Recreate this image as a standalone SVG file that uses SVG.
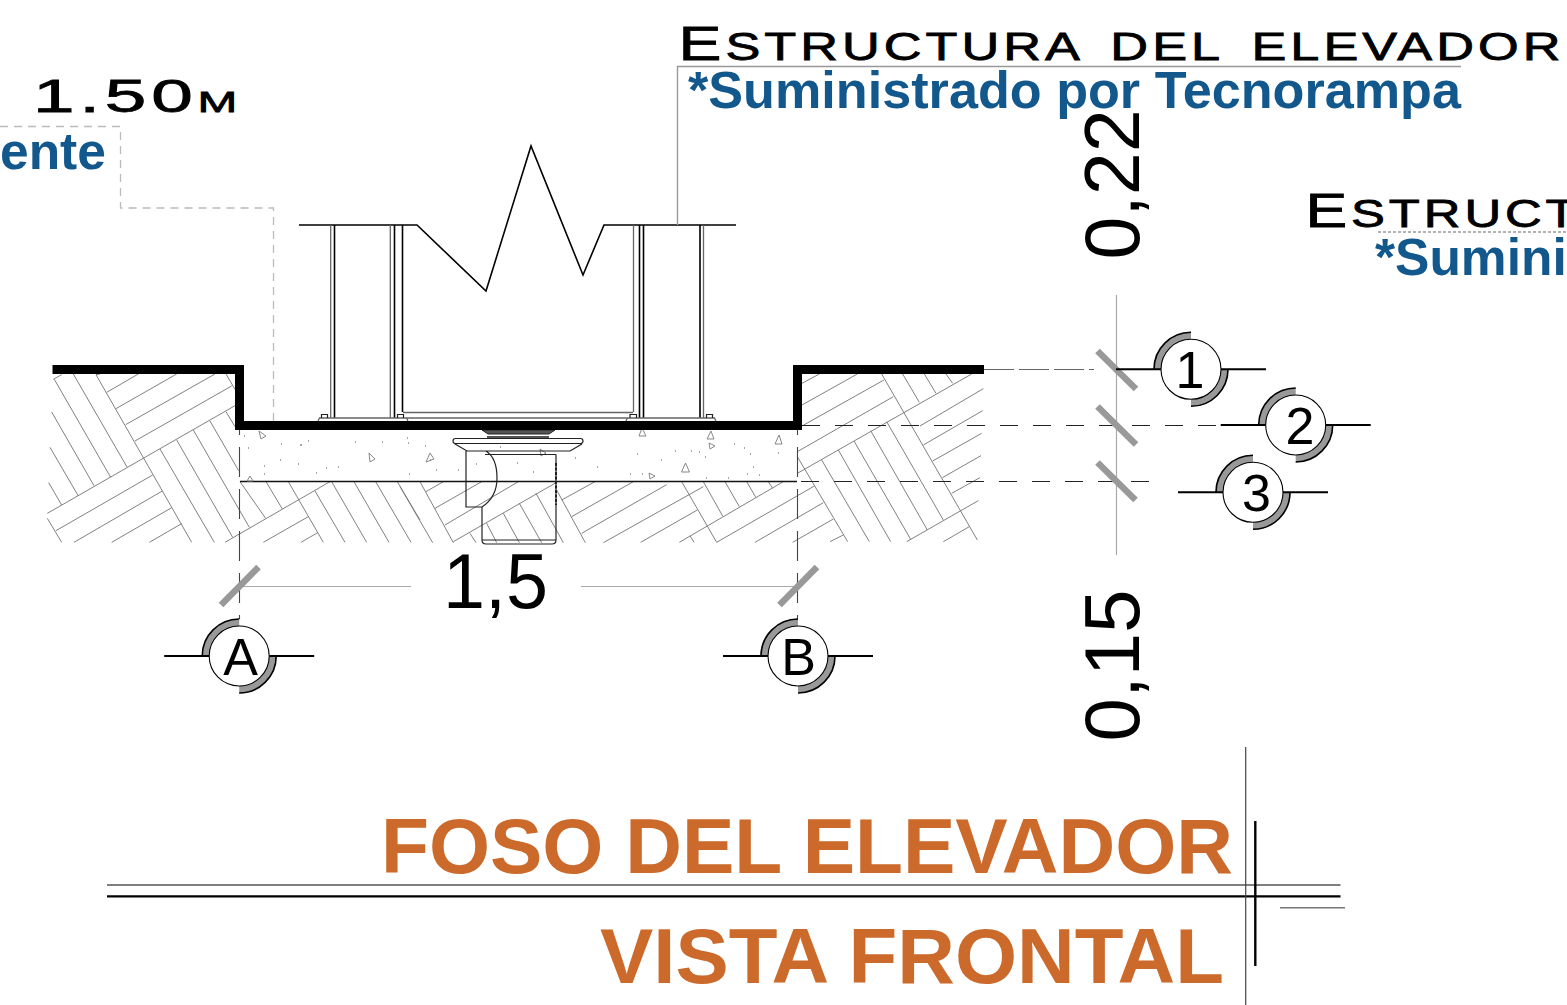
<svg xmlns="http://www.w3.org/2000/svg" xmlns:xlink="http://www.w3.org/1999/xlink" width="1567" height="1005" viewBox="0 0 1567 1005">
<style>
text{font-family:"Liberation Sans",Arial,sans-serif}
.wide{fill:#000;stroke:#000;stroke-width:.8;font-size:39px;letter-spacing:3px;word-spacing:8px}
.big{font-size:48px}
.blue{fill:#12588c;font-weight:700;font-size:51.500px}
.orange{fill:#cc6a2b;font-weight:700;font-size:78px}
.dim{fill:#000;font-size:78px}
.bub{fill:#000;font-size:52px;text-anchor:middle}
.hatch{fill:none;stroke:#777;stroke-width:2.8}
.tick{stroke:#999;stroke-width:6.5;fill:none}
.dim-line{stroke:#aaa;stroke-width:1.2;fill:none}
.dash{stroke:#222;stroke-width:1.1;stroke-dasharray:18 15;fill:none}
.axis{stroke:#444;stroke-width:1.1;stroke-dasharray:30 12;fill:none}
.thin{stroke:#222;stroke-width:1.2;fill:none}
.mid{stroke:#666;stroke-width:1.3;fill:none}
.stem{stroke:#000;stroke-width:1.6;fill:none}
.leader{stroke:#bbb;stroke-width:1.3;stroke-dasharray:8 6;fill:none}
.tri{fill:none;stroke:#888;stroke-width:1}
.bub-line{stroke:#000;stroke-width:2;fill:none}
</style>
<defs>
<g id="bubble">
<path d="M-33.500 0A33.500 33.500 0 0 1 0 -33.500M33.500 0A33.500 33.500 0 0 1 0 33.500" fill="none" stroke="#999" stroke-width="7.500"/>
<path d="M-37 0A37 37 0 0 1 0 -37M37 0A37 37 0 0 1 0 37" fill="none" stroke="#000" stroke-width="1.600"/>
<path d="M-75 0H-30M30 0H75" class="bub-line"/>
<circle r="30" fill="#fff" stroke="#000" stroke-width="1.100"/>
</g>
</defs>

<g id="hatch-left" class="hatch" transform="translate(0 340) scale(.33333)">
<path d="M142 520L705 197M168 572L458 405M222 607L487 453M335 607L515 503M448 607L545 551M405 303L695 138M377 254L645 102M348 206L530 102M320 157L415 102M160 118L185 104M288 104L300 102"/>
<path d="M288 104L575 607M163 118L332 412M220 102L381 381M155 216L282 437M150 322L235 468M146 428L185 495M142 535L185 607M480 327L643 607M530 300L698 592M580 270L748 562M630 243L716 392M678 215L705 260M678 102L705 148"/>
<path d="M720 425L797 535M798 425L847 507M865 425L970 607M995 425L1100 607M1062 425L1167 607M1127 425L1233 607M1192 425L1260 540M945 453L1035 607M675 607L990 425M790 607L925 530M903 607L953 578"/>
</g>
<g id="hatch-mid" class="hatch" transform="translate(400 390) scale(.33333)">
<path d="M0 290L98 458M60 275L160 458M78 305L130 275M105 355L245 275M135 405L355 275M160 455L470 277M210 430L228 458M260 400L290 458M310 370L358 458M358 340L425 458M408 310L490 458M470 300L556 458M485 330L585 275M515 380L700 275M545 430L800 284M610 458L910 290"/>
</g>
<g id="hatch-midright" class="hatch" transform="translate(620 420) scale(.33333)">
<path d="M62 367L232 270M178 367L490 185M290 367L583 198M405 367L610 248M518 367L640 297M630 365L670 345M185 185L290 367M250 185L308 288M315 185L358 260M380 185L408 233M445 185L458 205M210 347L222 367"/>
</g>
<g id="hatch-right" class="hatch" transform="translate(780 340) scale(.33333)">
<path d="M66 130L118 102M66 195L232 102M66 258L312 120M52 335L340 170M52 400L575 102M430 315L608 212M420 258L610 146M458 363L605 280M487 413L603 347M515 460L600 413M380 605L595 482M490 605L568 560"/>
<path d="M305 102L592 600M368 102L418 187M433 102L468 160M498 102L518 130M320 245L490 540M272 272L442 570M222 303L392 598M175 330L332 605M125 360L268 605M52 350L203 605"/>
</g>

<g id="slab">
<path d="M240 481.500H797" stroke="#111" stroke-width="1.400" fill="none"/>
<path d="M244 436h1M281 444h1M300 445h2M308 441h1M248 448h1M264 466h1M280 460h1M298 464h1M316 473h1M326 468h1M338 467h1M355 442h1M382 442h1M407 438h1M425 446h1M408 443h1M409 474h1M264 474h1M430 460h1M436 470h1M458 470h1M476 464h1M500 447h1M517 463h1M533 472h1M556 473h1M575 458h1M597 467h1M630 474h1M642 474h1M637 454h1M661 460h1M675 451h1M691 451h1M699 452h1M705 457h1M734 444h1M744 448h1M706 478h1M728 478h1M750 454h1M778 453h1M747 474h1M753 467h1M759 475h1" stroke="#888" stroke-width="1.400" fill="none"/>
<path d="M642 428l-3 8h7zM711 431l-4 8h7zM779 435l-4 9h7zM685.500 463l-4 9h8zM430 453l-4 9 8-3zM259 431l2 8 5-3zM369 453l1 9 5-3zM250 476l-3 5h6zM649 473l1 6 5-3zM709 443l1 6 5-3zM540 449l1 7 5-3z" class="tri"/>
</g>

<g id="columns">
<path d="M299 225H417L486 291L531 146L583 275L604 225H736" class="stem" stroke-width="1.200"/>
<path d="M330.700 225V418M390.300 225V418M703.500 225V418M633.500 225V412" class="mid" stroke-width="1.600"/>
<path d="M334.500 225V418M394.500 225V418M402.500 225V412M639.500 225V418M643.500 225V418M700 225V418" class="stem" stroke-width="1.300"/>
<path d="M403 412.500H633M318 421L319.500 418H406.500L408 421M626 421L627.500 418H714.500L716 421M407 418H627" class="mid" stroke-width="1.100"/>
<path d="M321.500 418V414.500H327.500V418M397.500 418V414.500H403.500V418M630 418V414.500H636.500V418M706.500 418V414.500H712.500V418" class="thin"/>
</g>

<g id="drain">
<path d="M482 430L488 434H549L555 430Z" fill="#555" stroke="#222" stroke-width="1"/>
<path d="M487 437H549" stroke="#555" stroke-width="2" fill="none"/>
<rect x="453" y="438.500" width="130" height="5" rx="2.500" fill="#fff" stroke="#222" stroke-width="1.200"/>
<path d="M455 444L467 451H570L582 444M485 454.500H556M466 451V507H482M482 507V540Q482 544 486 544H552Q556 544 556 540V454.500M482 540H556M486 451Q497 458 497 478Q497 497 482 507" fill="none" stroke="#222" stroke-width="1.200"/>
<path d="M556 463V505" stroke="#222" stroke-width="2" stroke-dasharray="3 1.500" fill="none"/>
</g>

<g id="connectors">
<path d="M0 126.500H120.500V208H273.500V425" class="leader"/>
<path d="M1461 66.500H677.500V225" fill="none" stroke="#999" stroke-width="1.400"/>
<path d="M1378 232H1567" fill="none" stroke="#999" stroke-width="1.600" stroke-dasharray="3 2"/>
<path d="M984 369.500H1094" fill="none" stroke="#666" stroke-width="1.100" stroke-dasharray="30 5"/>
<path d="M802 425.500H1220M801 481.500H1155" class="dash"/>
<path d="M1116.500 295V555" class="dim-line" stroke-width="1.400"/>
<path d="M240 586.500H411M581 586.500H797" class="dim-line" stroke-width="1.400"/>
<path d="M239.500 405V619M797.500 405V619" class="axis"/>
<path d="M1097.500 351L1136 389M1097.500 406.500L1136 444.500M1097.500 462.500L1135.500 500M221 605L258.500 567M779.500 605L817 567" class="tick"/>
<path d="M52.500 369.500H239.500V425.500H797.500V369.500H984" fill="none" stroke="#000" stroke-width="9"/>
</g>

<g id="rules">
<path d="M107 885H1340.500" stroke="#555" stroke-width="1.300" fill="none"/>
<path d="M107 896.300H1340.500" stroke="#000" stroke-width="2.200" fill="none"/>
<path d="M1245.700 747V1005" stroke="#444" stroke-width="1.200" fill="none"/>
<path d="M1255.300 821V966" stroke="#000" stroke-width="2.400" fill="none"/>
<path d="M1280 907.700H1345" stroke="#777" stroke-width="1.600" fill="none"/>
</g>

<g id="bubble-1"><use href="#bubble" x="1191" y="369.300"/><text class="bub" x="1190" y="387.500">1</text></g>
<g id="bubble-2"><use href="#bubble" x="1295.700" y="425"/><text class="bub" x="1300" y="443.500">2</text></g>
<g id="bubble-3"><use href="#bubble" x="1253" y="492.300"/><text class="bub" x="1256.500" y="510.500">3</text></g>
<g id="bubble-A"><use href="#bubble" x="239.200" y="656"/><text class="bub" x="240.500" y="674.500">A</text></g>
<g id="bubble-B"><use href="#bubble" x="798" y="656"/><text class="bub" x="798.500" y="674.500">B</text></g>

<g id="labels">
<text class="wide" x="678.500" y="60" textLength="886" lengthAdjust="spacingAndGlyphs"><tspan class="big">E</tspan>STRUCTURA DEL ELEVADOR</text>
<text class="wide" x="1305.500" y="227" textLength="275" lengthAdjust="spacingAndGlyphs"><tspan class="big">E</tspan>STRUCT</text>
<text class="wide" x="33" y="112" style="font-size:47px" textLength="209" lengthAdjust="spacingAndGlyphs">1.50<tspan style="font-size:30px">M</tspan></text>
<text class="blue" x="688" y="108" textLength="773" lengthAdjust="spacingAndGlyphs">*Suministrado por Tecnorampa</text>
<text class="blue" x="1375" y="275">*Sumini</text>
<text class="blue" x="0" y="169">ente</text>
<text class="dim" x="443" y="608" textLength="105" lengthAdjust="spacingAndGlyphs">1,5</text>
<text class="dim" transform="translate(1139 259.500) rotate(-90)" textLength="150" lengthAdjust="spacingAndGlyphs">0,22</text>
<text class="dim" transform="translate(1139 741.500) rotate(-90)" textLength="152" lengthAdjust="spacingAndGlyphs">0,15</text>
<text class="orange" x="381" y="873" textLength="852" lengthAdjust="spacingAndGlyphs">FOSO DEL ELEVADOR</text>
<text class="orange" x="600" y="983" textLength="624" lengthAdjust="spacingAndGlyphs">VISTA FRONTAL</text>
</g>
</svg>
